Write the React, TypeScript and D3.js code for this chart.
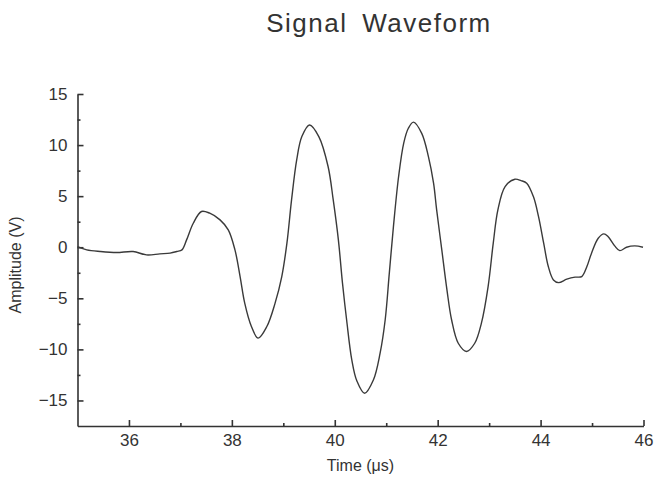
import React, { useRef, useEffect } from "react";
import * as d3 from "d3";

// waveform samples (time in µs, amplitude in V)
const timeUs = [
  35.0, 35.18, 35.44, 35.76, 36.08, 36.34, 36.6, 36.8, 36.93, 37.03,
  37.12, 37.25, 37.41, 37.57, 37.77, 37.93, 38.06, 38.16, 38.25, 38.38,
  38.51, 38.68, 38.84, 38.97, 39.07, 39.16, 39.26, 39.36, 39.51, 39.69,
  39.87, 39.97, 40.07, 40.15, 40.23, 40.33, 40.43, 40.58, 40.75, 40.88,
  40.98, 41.06, 41.14, 41.24, 41.34, 41.43, 41.53, 41.69, 41.82, 41.92,
  41.98, 42.08, 42.18, 42.27, 42.4, 42.56, 42.72, 42.85, 42.98, 43.08,
  43.17, 43.31, 43.5, 43.62, 43.73, 43.86, 43.96, 44.06, 44.15, 44.25,
  44.35, 44.51, 44.67, 44.8, 44.9, 44.99, 45.12, 45.23, 45.31, 45.44,
  45.54, 45.67, 45.83, 45.99,
];
const amplitudeV = [
  0.05, -0.26, -0.42, -0.52, -0.42, -0.75, -0.65, -0.58, -0.42, -0.26,
  0.72, 2.35, 3.5, 3.33, 2.68, 1.7, -0.26, -2.87, -5.47, -7.76,
  -8.9, -7.76, -5.47, -2.87, 0.4, 4.63, 8.55, 10.83, 11.97, 10.83,
  7.9, 4.63, 0.72, -3.52, -7.1, -11.0, -13.1, -14.3, -13.0, -10.4,
  -7.1, -2.54, 2.02, 6.9, 10.2, 11.65, 12.25, 11.15, 8.87, 6.27,
  3.65, -0.26, -4.17, -7.1, -9.4, -10.2, -9.4, -7.43, -3.85, 0.4,
  3.65, 5.94, 6.66, 6.52, 6.27, 4.96, 3.0, 0.4, -1.89, -3.2,
  -3.46, -3.13, -2.93, -2.87, -1.89, -0.58, 0.88, 1.31, 1.04, 0.13,
  -0.33, 0.0, 0.13, 0.0,
];

const xMajorTicks = [36, 38, 40, 42, 44, 46];
const xMinorTicks = [37, 39, 41, 43, 45];
const yMajorTicks = [-15, -10, -5, 0, 5, 10, 15];
const yMinorTicks = [-12.5, -7.5, -2.5, 2.5, 7.5, 12.5];

const INK = "#333";
const FONT = "'Liberation Sans', Arial, sans-serif";

const App = () => {
  const svgRef = useRef<SVGSVGElement>(null);

  useEffect(() => {
    if (!svgRef.current) return;
    const svg = d3.select(svgRef.current);
    svg.selectAll("*").remove();

    const data = timeUs.map((t, i) => ({ t, v: amplitudeV[i] }));

    const x = d3.scaleLinear().domain([35, 46]).range([77.5, 643.5]);
    const y = d3.scaleLinear().domain([-17.5, 15]).range([426, 94]);

    // title
    svg.append("text")
      .attr("x", 379)
      .attr("y", 32)
      .attr("text-anchor", "middle")
      .style("font-family", FONT)
      .style("font-size", "26px")
      .style("letter-spacing", "1.5px")
      .style("word-spacing", "6px")
      .style("fill", INK)
      .text("Signal Waveform");

    // x axis, ticks pointing inward
    const gx = svg.append("g")
      .attr("transform", `translate(0,${y(-17.5)})`)
      .call(d3.axisBottom(x).tickValues(xMajorTicks).tickSizeInner(-6).tickSizeOuter(0).tickPadding(8).tickFormat(d3.format("d")));
    svg.append("g")
      .attr("transform", `translate(0,${y(-17.5)})`)
      .call(d3.axisBottom(x).tickValues(xMinorTicks).tickSizeInner(-3).tickSizeOuter(0).tickFormat(() => ""))
      .select(".domain").remove();

    // y axis
    const gy = svg.append("g")
      .attr("transform", `translate(${x(35)},0)`)
      .call(d3.axisLeft(y).tickValues(yMajorTicks).tickSizeInner(-6).tickSizeOuter(0).tickPadding(10).tickFormat(d3.format("d")));
    svg.append("g")
      .attr("transform", `translate(${x(35)},0)`)
      .call(d3.axisLeft(y).tickValues(yMinorTicks).tickSizeInner(-3).tickSizeOuter(0).tickFormat(() => ""))
      .select(".domain").remove();

    svg.selectAll(".domain, .tick line")
      .attr("stroke", INK)
      .attr("stroke-width", 1.6);
    [gx, gy].forEach((g) =>
      g.selectAll(".tick text")
        .style("font-family", FONT)
        .style("font-size", "17px")
        .attr("fill", INK)
    );

    // axis titles
    svg.append("text")
      .attr("x", (x(35) + x(46)) / 2)
      .attr("y", 471)
      .attr("text-anchor", "middle")
      .style("font-family", FONT)
      .style("font-size", "16px")
      .style("fill", INK)
      .text("Time (μs)");

    svg.append("text")
      .attr("transform", "translate(21,265) rotate(-90)")
      .attr("text-anchor", "middle")
      .style("font-family", FONT)
      .style("font-size", "16px")
      .style("fill", INK)
      .text("Amplitude (V)");

    // waveform
    const line = d3.line<{ t: number; v: number }>()
      .x((d) => x(d.t))
      .y((d) => y(d.v))
      .curve(d3.curveCatmullRom.alpha(0.5));

    svg.append("path")
      .datum(data)
      .attr("d", line)
      .attr("fill", "none")
      .attr("stroke", "#3a3a3a")
      .attr("stroke-width", 1.4);
  }, []);

  return (
    <svg
      ref={svgRef}
      width={655}
      height={482}
      style={{ position: "absolute", left: 0, top: 0, background: "#fff" }}
    />
  );
};

export default App;
